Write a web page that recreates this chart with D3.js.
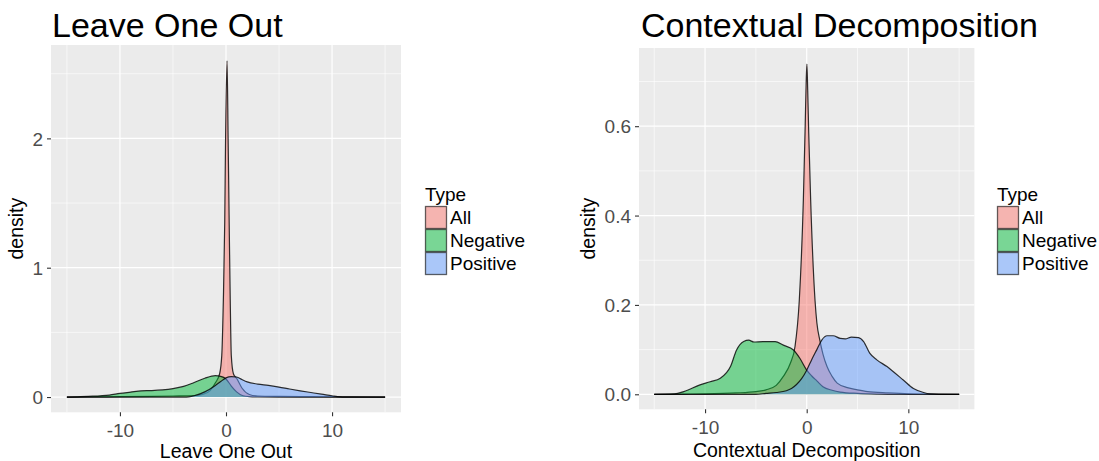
<!DOCTYPE html>
<html>
<head>
<meta charset="utf-8">
<script src="https://cdn.jsdelivr.net/npm/d3@7"></script>
<style>
  body { margin: 0; background: #fff; }
  svg { font-family: "Liberation Sans", Arial, sans-serif; }
</style>
</head>
<body>
<svg id="chart" width="1099" height="461"></svg>
<script>
// ---------------- data ----------------
const types = ["All", "Negative", "Positive"];
const typeColors = ["#F8766D", "#00BA38", "#619CFF"];
const xTicks = [-10, 0, 10];
const xMinor = [-15, -5, 5, 15];
const looYTicks = [0, 1, 2];
const looYMinor = [0.5, 1.5, 2.5];
const cdYTicks = [0, 0.2, 0.4, 0.6];
const cdYMinor = [0.1, 0.3, 0.5, 0.7];

// Leave One Out densities  [x, density]
const looAll = [[-15,0],[-12,0.001],[-10,0.003],[-7,0.005],[-5,0.008],[-3,0.012],[-2.2,0.02],[-1.5,0.05],[-1.0,0.11],[-0.6,0.18],[-0.4,0.32],[-0.25,0.75],[-0.12,1.35],[-0.04,2.0],[0.1,2.6],[0.2,2.0],[0.3,1.35],[0.4,0.75],[0.5,0.32],[0.7,0.18],[1.0,0.145],[1.5,0.07],[2.2,0.02],[3,0.008],[5,0.005],[8,0.003],[11,0.001],[15,0]];
const looNegative = [[-15,0],[-14,0.002],[-13,0.005],[-11,0.015],[-10,0.028],[-9,0.038],[-8,0.048],[-7,0.05],[-6,0.055],[-5,0.065],[-4,0.082],[-3,0.112],[-2,0.145],[-1.0,0.165],[-0.5,0.16],[0,0.14],[0.5,0.085],[1,0.04],[1.6,0.01],[2.2,0.003],[3,0.001],[5,0],[15,0]];
const looPositive = [[-15,0],[-4,0],[-3.5,0.002],[-3,0.01],[-2,0.04],[-1,0.09],[-0.5,0.12],[0,0.148],[0.5,0.158],[1,0.155],[1.5,0.135],[2,0.117],[3,0.1],[4,0.09],[5,0.077],[6,0.062],[7,0.048],[8,0.035],[9,0.022],[10,0.01],[10.5,0.003],[11,0],[15,0]];

// Contextual Decomposition densities  [x, density]
const cdAll = [[-15,0],[-12,0.0005],[-10,0.001],[-7,0.003],[-5,0.006],[-4,0.01],[-3,0.02],[-2.3,0.04],[-1.6,0.07],[-1.15,0.107],[-0.73,0.21],[-0.33,0.435],[-0.15,0.6],[-0.05,0.7],[0.02,0.739],[0.1,0.68],[0.2,0.585],[0.39,0.435],[0.82,0.21],[1.0,0.16],[1.3,0.12],[1.6,0.09],[2.0,0.062],[2.5,0.04],[3,0.025],[4,0.015],[5,0.01],[6,0.006],[8,0.003],[10,0.001],[12,0.0005],[15,0]];
const cdNegative = [[-15,0],[-13,0.001],[-12.1,0.006],[-10.5,0.021],[-9.5,0.028],[-8.5,0.036],[-7.5,0.062],[-6.9,0.099],[-6.2,0.118],[-5.7,0.121],[-5.2,0.117],[-4.3,0.118],[-3.1,0.118],[-2.3,0.11],[-1.3,0.099],[-0.66,0.08],[0,0.054],[0.5,0.041],[1,0.03],[1.6,0.017],[2.5,0.009],[3.3,0.005],[5,0.002],[7,0.0005],[9,0],[15,0]];
const cdPositive = [[-15,0],[-5,0],[-4,0.002],[-3,0.004],[-2,0.008],[-1.5,0.013],[-1.0,0.022],[-0.5,0.035],[0,0.054],[0.5,0.078],[1.0,0.1],[1.5,0.122],[2,0.131],[2.6,0.131],[3.3,0.125],[3.8,0.124],[4.4,0.128],[5.1,0.127],[5.6,0.118],[6.2,0.092],[6.9,0.077],[7.9,0.062],[8.5,0.051],[9.5,0.032],[10.5,0.013],[11.5,0.004],[12.1,0.001],[13,0],[15,0]];

// ---------------- drawing ----------------
const svg = d3.select("#chart");

function panel(cfg) {
  const x = d3.scaleLinear().domain([-16.5, 16.5]).range(cfg.xRange);
  const y = d3.scaleLinear().domain(cfg.yDomain).range(cfg.yRange);
  const g = svg.append("g");

  g.append("rect")
    .attr("x", cfg.xRange[0]).attr("y", cfg.yRange[1])
    .attr("width", cfg.xRange[1] - cfg.xRange[0])
    .attr("height", cfg.yRange[0] - cfg.yRange[1])
    .attr("fill", "#EBEBEB");

  // minor grid
  g.selectAll(".xm").data(xMinor).join("line")
    .attr("x1", d => x(d)).attr("x2", d => x(d))
    .attr("y1", cfg.yRange[0]).attr("y2", cfg.yRange[1])
    .attr("stroke", "#fff").attr("stroke-width", 0.6);
  g.selectAll(".ym").data(cfg.yMinor).join("line")
    .attr("y1", d => y(d)).attr("y2", d => y(d))
    .attr("x1", cfg.xRange[0]).attr("x2", cfg.xRange[1])
    .attr("stroke", "#fff").attr("stroke-width", 0.6);
  // major grid
  g.selectAll(".xM").data(xTicks).join("line")
    .attr("x1", d => x(d)).attr("x2", d => x(d))
    .attr("y1", cfg.yRange[0]).attr("y2", cfg.yRange[1])
    .attr("stroke", "#fff").attr("stroke-width", 1.2);
  g.selectAll(".yM").data(cfg.yTicks).join("line")
    .attr("y1", d => y(d)).attr("y2", d => y(d))
    .attr("x1", cfg.xRange[0]).attr("x2", cfg.xRange[1])
    .attr("stroke", "#fff").attr("stroke-width", 1.2);

  const area = d3.area().x(d => x(d[0])).y0(y(0)).y1(d => y(d[1])).curve(d3.curveMonotoneX);
  const line = d3.line().x(d => x(d[0])).y(d => y(d[1])).curve(d3.curveMonotoneX);

  cfg.series.forEach((s, i) => {
    g.append("path").attr("d", area(s))
      .attr("fill", typeColors[i]).attr("fill-opacity", 0.5);
    g.append("path").attr("d", line(s))
      .attr("fill", "none").attr("stroke", "#000")
      .attr("stroke-opacity", 0.8).attr("stroke-width", 1.2);
  });

  // axes
  const ax = g.append("g").attr("transform", `translate(0,${cfg.yRange[0]})`)
    .call(d3.axisBottom(x).tickValues(xTicks).tickSize(4).tickPadding(7).tickFormat(d3.format("d")));
  const ay = g.append("g").attr("transform", `translate(${cfg.xRange[0]},0)`)
    .call(d3.axisLeft(y).tickValues(cfg.yTicks).tickSize(4).tickPadding(4).tickFormat(cfg.yFormat));
  [ax, ay].forEach(a => {
    a.select(".domain").remove();
    a.selectAll(".tick line").attr("stroke", "#333").attr("stroke-width", 1.1);
    a.selectAll(".tick text").attr("fill", "#4D4D4D")
      .style("font-size", "19px").style("font-family", "'Liberation Sans', Arial, sans-serif");
  });
  ay.selectAll(".tick text").attr("dy", "0.35em");
  ax.selectAll(".tick text").text(d => d < 0 ? "-" + Math.abs(d) : d);

  // titles
  g.append("text").attr("x", cfg.titleX).attr("y", 37)
    .style("font-size", "34px").attr("fill", "#000").text(cfg.title);
  g.append("text").attr("x", x(0)).attr("y", cfg.xTitleY)
    .attr("text-anchor", "middle").style("font-size", "19.5px").attr("fill", "#000")
    .text(cfg.xTitle);
  g.append("text")
    .attr("transform", `translate(${cfg.yTitleX},${(cfg.yRange[0] + cfg.yRange[1]) / 2}) rotate(-90)`)
    .attr("text-anchor", "middle").style("font-size", "19.5px").attr("fill", "#000")
    .text("density");

  // legend
  const lg = g.append("g").attr("transform", `translate(${cfg.legendX},0)`);
  lg.append("text").attr("x", 0).attr("y", 201).style("font-size", "19px").text("Type");
  types.forEach((t, i) => {
    const ky = 206 + i * 23;
    lg.append("rect").attr("x", 0.5).attr("y", ky + 0.5).attr("width", 21).attr("height", 22)
      .attr("fill", "#F2F2F2");
    lg.append("rect").attr("x", 0.5).attr("y", ky + 0.5).attr("width", 21).attr("height", 22)
      .attr("fill", typeColors[i]).attr("fill-opacity", 0.5)
      .attr("stroke", "#000").attr("stroke-opacity", 0.6).attr("stroke-width", 1.3);
    lg.append("text").attr("x", 25).attr("y", ky + 11.5).attr("dy", "0.35em")
      .style("font-size", "19px").text(t);
  });
}

panel({
  title: "Leave One Out", titleX: 52,
  xTitle: "Leave One Out", xTitleY: 457.5,
  xRange: [51, 401], yRange: [412.3, 45], yDomain: [-0.118, 2.722],
  yTicks: looYTicks, yMinor: looYMinor, yFormat: d3.format("d"),
  yTitleX: 23, legendX: 425,
  series: [looAll, looNegative, looPositive]
});

panel({
  title: "Contextual Decomposition", titleX: 641,
  xTitle: "Contextual Decomposition", xTitleY: 456.5,
  xRange: [639, 974.4], yRange: [409.3, 48], yDomain: [-0.0336, 0.775],
  yTicks: cdYTicks, yMinor: cdYMinor, yFormat: d3.format(".1f"),
  yTitleX: 595, legendX: 997,
  series: [cdAll, cdNegative, cdPositive]
});
</script>
</body>
</html>
